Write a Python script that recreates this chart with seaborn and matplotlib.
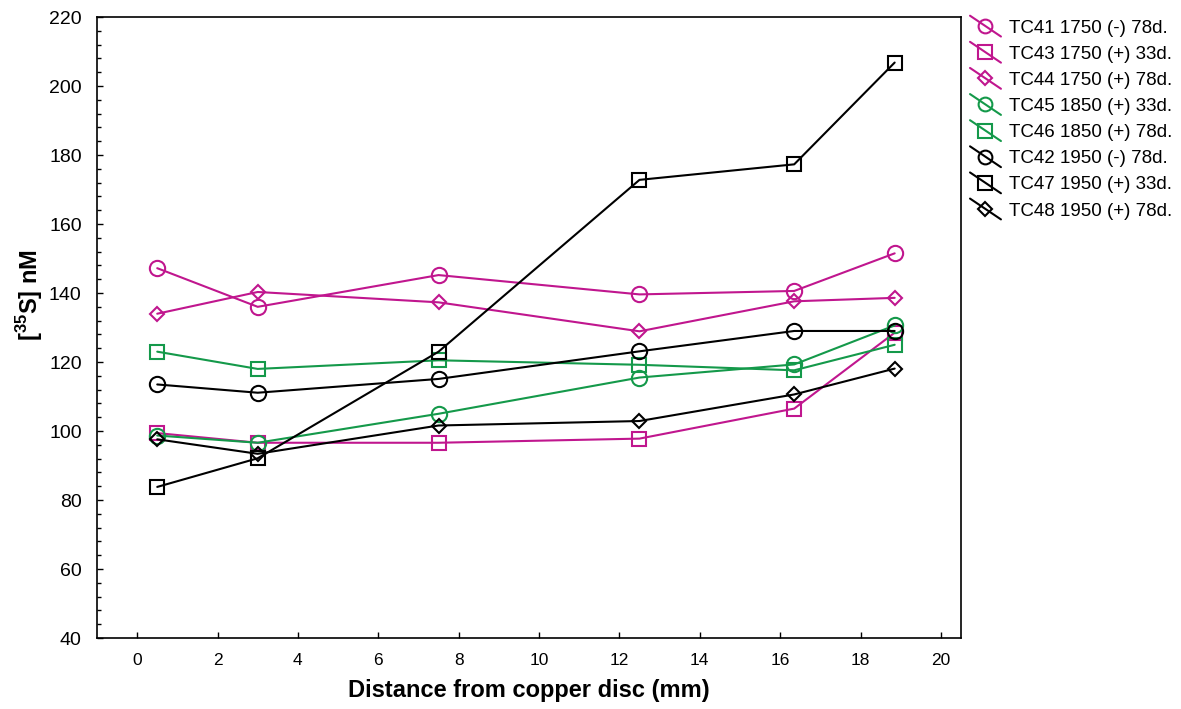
import matplotlib
matplotlib.use("Agg")
import matplotlib.pyplot as plt
import pandas as pd
import seaborn as sns
from matplotlib.legend_handler import HandlerLine2D
from matplotlib.lines import Line2D
from matplotlib.ticker import MultipleLocator

# Sampling distances (mm from the copper disc)
distance_mm = [0.5, 3.0, 7.5, 12.5, 16.35, 18.85]

# [35S] concentrations (nM) per core
tc41 = [147.2, 136.0, 145.2, 139.6, 140.6, 151.5]
tc43 = [99.4, 96.6, 96.6, 97.8, 106.5, 128.5]
tc44 = [134.0, 140.3, 137.3, 128.9, 137.6, 138.6]
tc45 = [98.7, 96.6, 105.0, 115.5, 119.3, 130.6]
tc46 = [123.0, 118.0, 120.5, 119.2, 117.6, 125.0]
tc42 = [113.5, 111.1, 115.1, 123.1, 129.0, 129.0]
tc47 = [83.8, 92.1, 123.0, 172.8, 177.3, 206.8]
tc48 = [97.6, 93.4, 101.6, 102.9, 110.6, 118.1]

series_labels = [
    "TC41 1750 (-) 78d.",
    "TC43 1750 (+) 33d.",
    "TC44 1750 (+) 78d.",
    "TC45 1850 (+) 33d.",
    "TC46 1850 (+) 78d.",
    "TC42 1950 (-) 78d.",
    "TC47 1950 (+) 33d.",
    "TC48 1950 (+) 78d.",
]
series_values = [tc41, tc43, tc44, tc45, tc46, tc42, tc47, tc48]

MAGENTA = "#C0168E"
GREEN = "#14994A"
BLACK = "#000000"
series_colors = [MAGENTA, MAGENTA, MAGENTA, GREEN, GREEN, BLACK, BLACK, BLACK]
series_markers = ["o", "s", "D", "o", "s", "o", "s", "D"]
marker_sizes = {"o": 11.0, "s": 10.5, "D": 7.4}

records = []
for label, values in zip(series_labels, series_values):
    for x, y in zip(distance_mm, values):
        records.append({"series": label, "distance": x, "conc": y})
df = pd.DataFrame(records)

sns.set_theme(style="ticks")
plt.rcParams["font.family"] = ["Liberation Sans", "DejaVu Sans"]
plt.rcParams["text.color"] = "black"
plt.rcParams["axes.labelcolor"] = "black"
plt.rcParams["mathtext.fontset"] = "custom"
plt.rcParams["mathtext.rm"] = "Liberation Sans"
plt.rcParams["mathtext.bf"] = "Liberation Sans:bold"

fig = plt.figure(figsize=(11.81, 7.09), dpi=100)
ax = fig.add_axes([0.0821, 0.1001, 0.7316, 0.8759])

handles = []
for label, color, marker in zip(series_labels, series_colors, series_markers):
    sub = df[df["series"] == label]
    sns.lineplot(
        data=sub, x="distance", y="conc", ax=ax, legend=False,
        color=color, linewidth=1.5, marker=marker,
        markersize=marker_sizes[marker], markerfacecolor="none",
        markeredgecolor=color, markeredgewidth=1.5,
    )
    handles.append(ax.lines[-1])


class DiagonalHandler(HandlerLine2D):
    """Legend key: marker centred on a line running top-left to bottom-right."""

    def create_artists(self, legend, orig_handle, xdescent, ydescent,
                       width, height, fontsize, trans):
        x0 = -xdescent
        x1 = -xdescent + width
        yc = -ydescent + height / 2
        half = 7.5
        line = Line2D([x0, x1], [yc + half, yc - half])
        self.update_prop(line, orig_handle, legend)
        line.set_marker("")
        line.set_transform(trans)
        mk = Line2D([(x0 + x1) / 2], [yc])
        self.update_prop(mk, orig_handle, legend)
        mk.set_linestyle("")
        mk.set_markersize(orig_handle.get_markersize() * 0.9)
        mk.set_transform(trans)
        return [line, mk]


ax.set_xlim(-1, 20.5)
ax.set_ylim(40, 220)
ax.xaxis.set_major_locator(MultipleLocator(2))
ax.yaxis.set_major_locator(MultipleLocator(20))
ax.yaxis.set_minor_locator(MultipleLocator(4))

ax.tick_params(axis="both", which="both", direction="in", top=False, right=False,
               color="black", width=1.0)
ax.tick_params(axis="both", which="major", length=4)
ax.tick_params(axis="y", which="minor", length=3)
ax.tick_params(axis="y", which="major", labelsize=14, pad=11)
ax.tick_params(axis="x", which="major", labelsize=12.5, pad=11)
for lab in ax.get_yticklabels() + ax.get_xticklabels():
    lab.set_color("black")

for spine in ax.spines.values():
    spine.set_visible(True)
    spine.set_color("black")
    spine.set_linewidth(1.2)

ax.set_xlabel("Distance from copper disc (mm)", fontsize=17, fontweight="bold",
              color="black", labelpad=8)
ax.set_ylabel(r"[$^{\mathbf{35}}$S] nM", fontsize=17, fontweight="bold",
              color="black")
ax.yaxis.set_label_coords(-0.060, 0.552)

leg = fig.legend(
    handles, series_labels, loc="upper left", bbox_to_anchor=(0.815, 0.983),
    frameon=False, fontsize=13.5, handlelength=1.65, handletextpad=0.45,
    labelspacing=0.48, borderaxespad=0,
    handler_map={Line2D: DiagonalHandler()},
)
for txt in leg.get_texts():
    txt.set_color("black")

fig.savefig("out.png", dpi=100, facecolor="white")
